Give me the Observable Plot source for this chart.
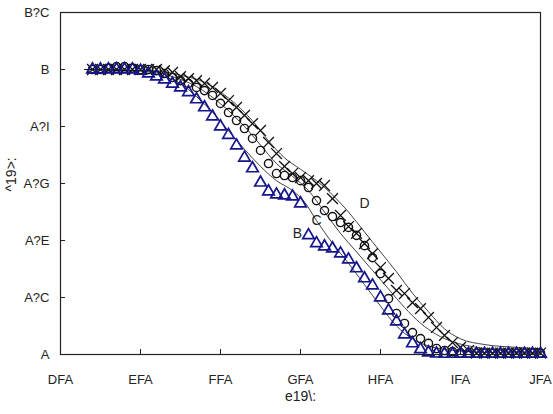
<!DOCTYPE html>
<html>
<head>
<meta charset="utf-8">
<script src="https://cdn.jsdelivr.net/npm/d3@7"></script>
<script src="https://cdn.jsdelivr.net/npm/@observablehq/plot@0.6"></script>
<style>
  html, body { margin: 0; padding: 0; background: #fff; }
</style>
</head>
<body>
<div id="chart"></div>
<script>
// ---- data ----
const xs = [390,400,410,420,430,440,450,460,470,480,490,500,510,520,530,540,550,560,570,580,
            590,600,610,620,630,640,650,660,670,680,690,700,710,720,730,740,750,760,770,780,
            790,800,810,820,830,840,850,860,870,880,890,900,910,920,930,940,950];

// series B (triangles)
const seriesB = [1.0,1.0,1.0,1.0,1.0,1.0,0.995,0.986,0.975,0.965,0.95,0.937,0.92,0.895,0.867,0.835,0.80,0.77,0.733,0.69,
                 0.653,0.603,0.572,0.561,0.558,0.554,0.53,0.418,0.39,0.379,0.372,0.354,0.333,0.302,0.267,0.242,0.2,0.154,0.116,0.07,
                 0.039,0.018,0.007,0.003,0.002,0.002,0.002,0.002,0.002,0.002,0.002,0.002,0.002,0.002,0.002,0.002,0.002];
// series C (circles)
const seriesC = [1.0,1.0,1.005,1.01,1.01,1.005,1.0,1.0,0.996,0.986,0.972,0.961,0.951,0.937,0.926,0.909,0.881,0.849,0.821,0.793,
                 0.758,0.716,0.67,0.635,0.628,0.621,0.61,0.586,0.54,0.505,0.484,0.463,0.446,0.418,0.382,0.34,0.284,0.196,0.144,0.109,
                 0.077,0.056,0.039,0.021,0.014,0.01,0.005,0.005,0.005,0.005,0.005,0.005,0.005,0.005,0.005,0.005,0.005];
// series D (crosses)
const seriesD = [1.0,1.0,1.0,1.0,1.0,1.0,1.0,1.0,1.0,0.996,0.99,0.975,0.968,0.961,0.951,0.937,0.916,0.891,0.867,0.839,
                 0.81,0.786,0.744,0.705,0.66,0.635,0.621,0.61,0.6,0.593,0.547,0.488,0.449,0.425,0.389,0.354,0.305,0.267,0.225,0.214,
                 0.182,0.161,0.13,0.095,0.067,0.042,0.025,0.014,0.005,0.005,0.005,0.005,0.005,0.005,0.005,0.005,0.005];

// model curves
const curveBx = [380,450,480,500,520,540,560,580,600,620,640,655,670,690,710,730,750,770,790,810,830,850,900,950];
const curveBy = [1.0,0.995,0.975,0.95,0.905,0.85,0.785,0.72,0.66,0.61,0.575,0.535,0.47,0.39,0.32,0.245,0.17,0.1,0.055,0.03,0.018,0.012,0.006,0.004];
const curveCx = [380,460,490,520,550,580,600,620,640,660,680,700,720,740,760,780,800,820,840,870,900,950];
const curveCy = [1.0,0.995,0.975,0.94,0.88,0.8,0.735,0.67,0.625,0.575,0.5,0.425,0.36,0.295,0.23,0.165,0.11,0.07,0.045,0.025,0.014,0.007];
const curveDx = [380,470,500,530,560,590,610,630,650,670,690,710,730,750,770,790,810,830,850,880,920,950];
const curveDy = [1.0,0.995,0.98,0.955,0.9,0.82,0.75,0.69,0.65,0.61,0.56,0.5,0.43,0.36,0.29,0.215,0.15,0.09,0.055,0.035,0.025,0.02];

// curve labels
const labelText = ["B", "C", "D"];
const labelX = [646, 670, 730];
const labelY = [0.425, 0.47, 0.53];

// ticks
const xTicks = [350,450,550,650,750,850,950];
const xTickLabels = ["DFA","EFA","FFA","GFA","HFA","IFA","JFA"];
const yTicks = [0,0.2,0.4,0.6,0.8,1.0,1.2];
const yTickLabels = ["A","A?C","A?E","A?G","A?I","B","B?C"];
const xTitle = "e19\\:";
const yTitle = "^19>:";

// ---- build ----
const pts = (ys) => xs.map((x, i) => ({x, y: ys[i]}));
const crv = (cx, cy) => cx.map((x, i) => ({x, y: cy[i]}));
const labels = labelText.map((t, i) => ({t, x: labelX[i], y: labelY[i]}));

const font = "'Liberation Sans Narrow', 'Liberation Sans', sans-serif";
const navy = "#15158c";

const chart = Plot.plot({
  width: 553,
  height: 414,
  marginLeft: 60,
  marginRight: 13,
  marginTop: 12,
  marginBottom: 60,
  style: {fontFamily: font, fontSize: "13px", color: "#222", background: "#fff"},
  x: {domain: [350, 950]},
  y: {domain: [0, 1.2]},
  marks: [
    Plot.axisX(xTicks, {tickSize: -5, tickPadding: 25, tickFormat: (d) => xTickLabels[xTicks.indexOf(d)], label: null, stroke: "#222", fontSize: 13}),
    Plot.axisY(yTicks, {tickSize: -5, tickPadding: 16, tickFormat: (d) => yTickLabels[yTicks.indexOf(d)], label: null, stroke: "#222", fontSize: 13}),
    Plot.line(crv(curveBx, curveBy), {x: "x", y: "y", stroke: "#111", strokeWidth: 0.8, curve: "monotone-x"}),
    Plot.line(crv(curveCx, curveCy), {x: "x", y: "y", stroke: "#111", strokeWidth: 0.8, curve: "monotone-x"}),
    Plot.line(crv(curveDx, curveDy), {x: "x", y: "y", stroke: "#111", strokeWidth: 0.8, curve: "monotone-x"}),
    Plot.dot(pts(seriesD), {x: "x", y: "y", symbol: "times", r: 5, stroke: "#111", strokeWidth: 1.3}),
    Plot.dot(pts(seriesC), {x: "x", y: "y", symbol: "circle", r: 4.1, stroke: "#111", strokeWidth: 1.4, fill: "none"}),
    Plot.dot(pts(seriesB), {x: "x", y: "y", symbol: "triangle", r: 4.3, stroke: navy, strokeWidth: 1.7, fill: "none"}),
    Plot.text(labels, {x: "x", y: "y", text: "t", fill: "#222", fontSize: 14}),
    Plot.frame({stroke: "#222", strokeWidth: 1.2}),
    Plot.text([xTitle], {frameAnchor: "bottom", dy: 46, fill: "#222", fontSize: 14}),
    Plot.text([yTitle], {frameAnchor: "left", dx: -49, dy: 8, rotate: -90, fill: "#222", fontSize: 14})
  ]
});
document.getElementById("chart").appendChild(chart);
</script>
</body>
</html>
